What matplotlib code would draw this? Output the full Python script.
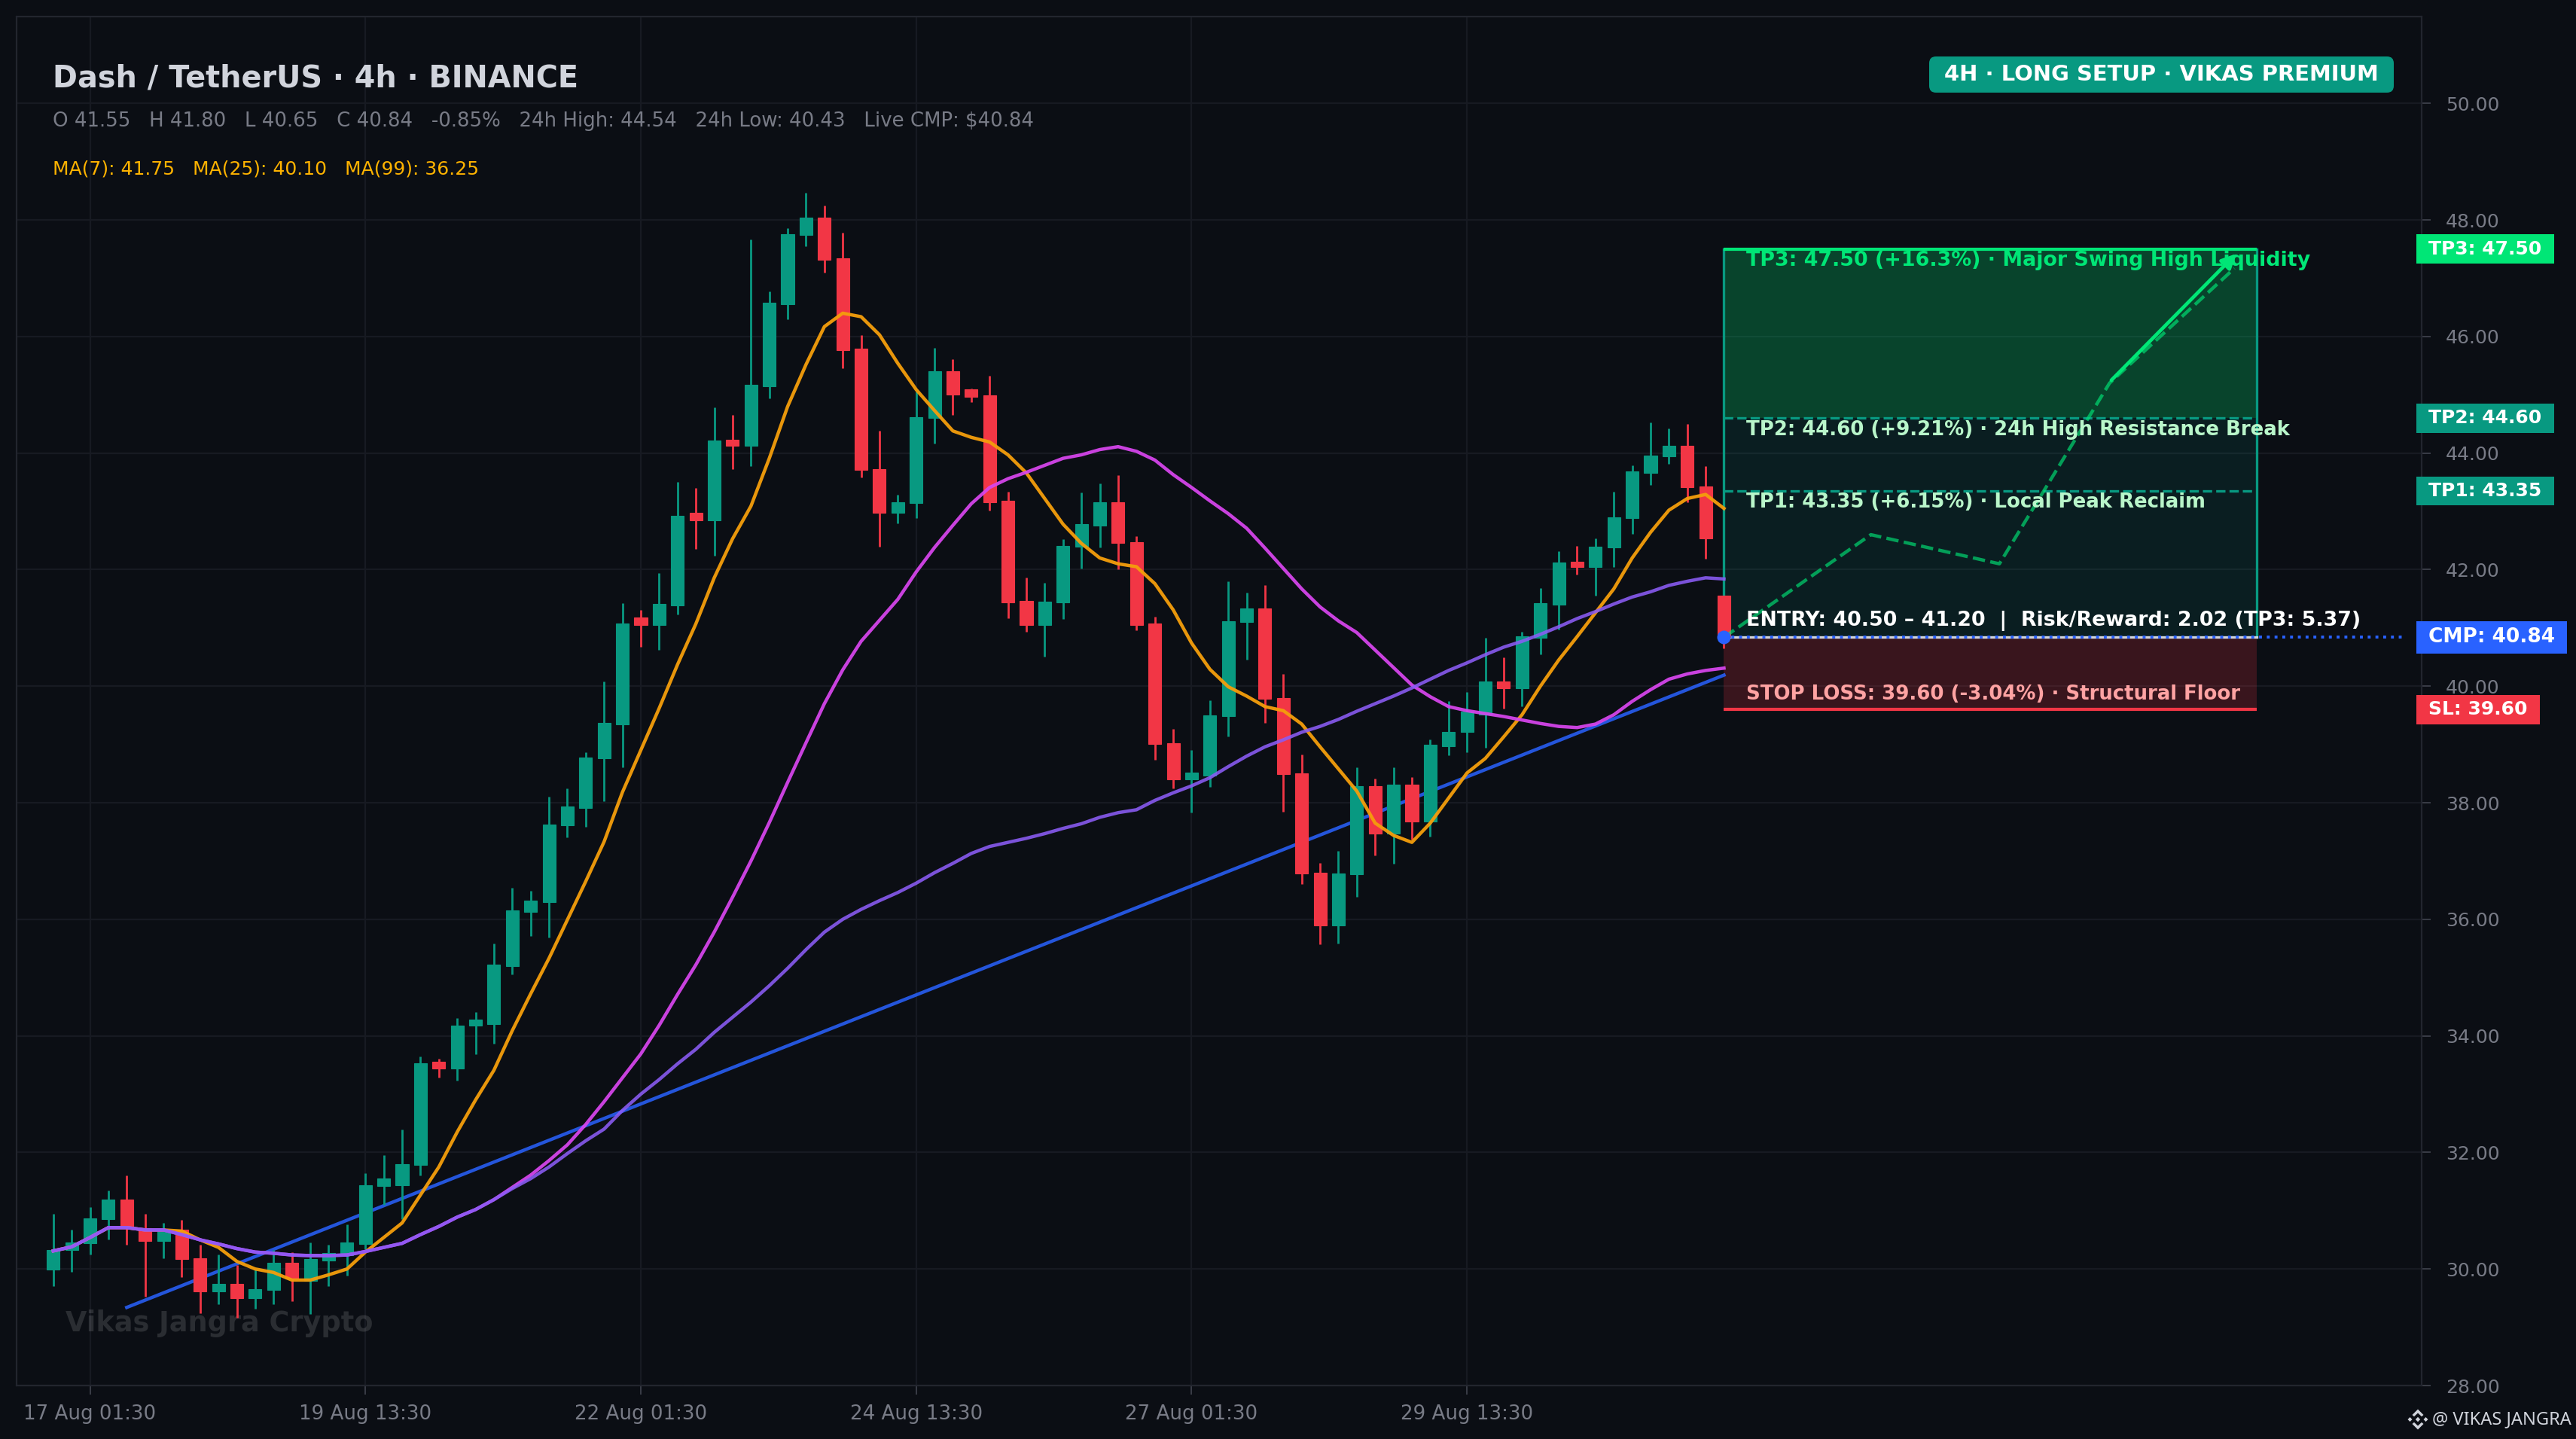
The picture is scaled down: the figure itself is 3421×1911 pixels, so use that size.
import numpy as np
import matplotlib
matplotlib.use('Agg')
import matplotlib.pyplot as plt
from matplotlib.patches import FancyBboxPatch, Polygon, Rectangle
from matplotlib.transforms import IdentityTransform, blended_transform_factory

# ========== Candles (4h) ==========
opens = [29.99, 30.32, 30.44, 30.86, 31.19, 30.70, 30.48, 30.68, 30.19, 29.62, 29.75, 29.50, 29.64, 30.10, 29.79, 30.15,
         30.24, 30.43, 31.43, 31.44, 31.79, 33.56, 33.44, 34.17, 34.20, 35.20, 36.13, 36.30, 37.61, 37.91, 38.76, 39.35,
         41.18, 41.05, 41.39, 42.97, 42.85, 44.23, 44.12, 45.15, 46.56, 47.74, 48.04, 47.34, 45.79, 43.72, 42.97, 43.14,
         44.60, 45.41, 45.09, 44.99, 43.18, 41.46, 41.05, 41.44, 42.39, 42.76, 43.15, 42.47, 41.07, 39.02, 38.40, 38.46,
         39.49, 41.10, 41.33, 39.80, 38.50, 36.80, 35.90, 36.77, 38.29, 37.47, 38.31, 37.68, 38.97, 39.21, 39.51, 40.08,
         39.97, 40.83, 41.40, 42.14, 42.04, 42.38, 42.88, 43.66, 43.95, 44.12, 43.43, 41.55]
highs = [30.95, 30.68, 31.06, 31.35, 31.60, 30.95, 30.79, 30.84, 30.41, 30.25, 30.07, 29.99, 30.32, 30.29, 30.46, 30.41,
         30.76, 31.64, 31.95, 32.39, 33.65, 33.61, 34.30, 34.41, 35.58, 36.54, 36.49, 38.11, 38.25, 38.86, 40.08, 41.43,
         41.31, 41.94, 43.51, 43.40, 44.79, 44.66, 47.67, 46.77, 47.86, 48.47, 48.25, 47.78, 46.02, 44.38, 43.28, 45.05,
         45.81, 45.61, 45.11, 45.33, 43.34, 41.87, 41.78, 42.52, 43.32, 43.48, 43.62, 42.58, 41.19, 39.27, 38.90, 39.76,
         41.80, 41.61, 41.73, 40.21, 38.83, 36.97, 37.17, 38.61, 38.42, 38.61, 38.44, 39.09, 39.74, 39.90, 40.83, 40.49,
         40.93, 41.68, 42.32, 42.41, 42.54, 43.34, 43.79, 44.53, 44.42, 44.50, 43.77, 41.80]
lows = [29.70, 29.95, 30.25, 30.51, 30.41, 29.53, 30.19, 29.86, 29.24, 29.39, 29.16, 29.32, 29.40, 29.45, 29.23, 29.71,
        29.89, 30.34, 31.10, 30.85, 31.61, 33.28, 33.23, 33.69, 33.87, 35.05, 35.71, 35.69, 37.41, 37.59, 38.03, 38.61,
        40.67, 40.63, 41.23, 42.35, 42.24, 43.72, 43.77, 44.94, 46.29, 47.55, 47.10, 45.45, 43.58, 42.39, 42.80, 42.88,
        44.16, 44.65, 44.87, 43.01, 41.16, 40.93, 40.51, 41.15, 42.02, 42.38, 42.00, 40.96, 38.74, 38.25, 37.83, 38.27,
        39.14, 40.46, 39.37, 37.84, 36.60, 35.57, 35.58, 36.39, 37.09, 36.96, 37.37, 37.42, 38.82, 38.86, 38.94, 39.62,
        39.66, 40.54, 40.97, 41.92, 41.55, 42.05, 42.61, 43.45, 43.82, 43.15, 42.19, 40.65]
closes = [30.33, 30.46, 30.87, 31.19, 30.72, 30.48, 30.67, 30.17, 29.62, 29.75, 29.50, 29.66, 30.10, 29.83, 30.17, 30.28,
          30.45, 31.44, 31.55, 31.80, 33.53, 33.44, 34.18, 34.28, 35.22, 36.15, 36.32, 37.62, 37.93, 38.77, 39.37, 41.08,
          41.05, 41.41, 42.92, 42.85, 44.21, 44.12, 45.17, 46.58, 47.75, 48.04, 47.32, 45.77, 43.71, 42.97, 43.15, 44.61,
          45.41, 45.00, 44.97, 43.16, 41.44, 41.05, 41.45, 42.41, 42.78, 43.15, 42.46, 41.05, 39.01, 38.40, 38.52, 39.50,
          41.11, 41.33, 39.78, 38.49, 36.79, 35.90, 36.78, 38.29, 37.47, 38.31, 37.68, 38.99, 39.22, 39.57, 40.08, 39.97,
          40.85, 41.42, 42.12, 42.04, 42.40, 42.90, 43.68, 43.96, 44.12, 43.42, 42.53, 40.84]

# ========== Moving averages ==========
ma7 = [30.31, 30.38, 30.54, 30.71, 30.71, 30.67, 30.67, 30.65, 30.50, 30.37, 30.13, 30.00, 29.94, 29.81, 29.81, 29.90,
       30.00, 30.29, 30.54, 30.79, 31.27, 31.75, 32.35, 32.90, 33.41, 34.09, 34.72, 35.33, 35.99, 36.65, 37.33, 38.18,
       38.90, 39.62, 40.37, 41.07, 41.86, 42.53, 43.09, 43.91, 44.80, 45.52, 46.17, 46.40, 46.34, 46.03, 45.54, 45.09,
       44.73, 44.38, 44.27, 44.19, 43.97, 43.66, 43.22, 42.78, 42.45, 42.20, 42.10, 42.05, 41.76, 41.31, 40.74, 40.29,
       39.99, 39.83, 39.65, 39.58, 39.35, 38.96, 38.58, 38.20, 37.65, 37.44, 37.32, 37.65, 38.08, 38.51, 38.76, 39.13,
       39.51, 40.00, 40.45, 40.85, 41.26, 41.67, 42.20, 42.64, 43.02, 43.22, 43.29, 43.05]
ma25 = [30.31, 30.38, 30.54, 30.71, 30.71, 30.67, 30.67, 30.59, 30.50, 30.43, 30.35, 30.29, 30.27, 30.24, 30.23, 30.23,
        30.24, 30.30, 30.37, 30.44, 30.59, 30.73, 30.89, 31.02, 31.19, 31.40, 31.61, 31.86, 32.13, 32.48, 32.87, 33.28,
        33.69, 34.18, 34.71, 35.22, 35.78, 36.38, 37.00, 37.66, 38.35, 39.03, 39.70, 40.28, 40.77, 41.13, 41.49, 41.96,
        42.38, 42.76, 43.13, 43.41, 43.56, 43.67, 43.79, 43.91, 43.97, 44.06, 44.11, 44.03, 43.88, 43.63, 43.41, 43.18,
        42.96, 42.71, 42.37, 42.02, 41.67, 41.36, 41.12, 40.92, 40.62, 40.32, 40.02, 39.82, 39.65, 39.58, 39.53, 39.48,
        39.42, 39.36, 39.31, 39.29, 39.35, 39.51, 39.74, 39.94, 40.12, 40.21, 40.27, 40.31]
ma99 = [30.31, 30.38, 30.54, 30.71, 30.71, 30.67, 30.67, 30.59, 30.50, 30.43, 30.35, 30.29, 30.27, 30.24, 30.23, 30.23,
        30.24, 30.30, 30.37, 30.44, 30.59, 30.73, 30.89, 31.02, 31.19, 31.38, 31.55, 31.75, 31.98, 32.20, 32.40, 32.72,
        33.00, 33.25, 33.52, 33.77, 34.06, 34.32, 34.58, 34.86, 35.16, 35.48, 35.78, 36.00, 36.17, 36.32, 36.46, 36.62,
        36.80, 36.96, 37.13, 37.25, 37.32, 37.39, 37.47, 37.56, 37.64, 37.75, 37.83, 37.88, 38.04, 38.17, 38.29, 38.43,
        38.62, 38.80, 38.96, 39.08, 39.21, 39.31, 39.43, 39.57, 39.70, 39.83, 39.97, 40.12, 40.27, 40.40, 40.54, 40.67,
        40.77, 40.89, 41.02, 41.16, 41.28, 41.41, 41.53, 41.62, 41.73, 41.80, 41.86, 41.84]

# Rising trendline under the candles
trend_x = [4, 91]
trend_y = [29.34, 40.19]

# ========== Trade setup ==========
cmp_price = 40.84
sl_price = 39.60
tp1_price = 43.35
tp2_price = 44.60
tp3_price = 47.50
box_start = 91
box_end = 120
cmp_line_end = 128

path_x = [91, 99, 106, 112, 118.8]
path_y = [40.84, 42.6, 42.1, 45.2, 47.17]
arrow_x = [112.1, 118.9]
arrow_y = [45.25, 47.42]

# ========== Axis labels ==========
tick_idx = [2, 17, 32, 47, 62, 77]
tick_labels = ['17 Aug 01:30', '19 Aug 13:30', '22 Aug 01:30', '24 Aug 13:30', '27 Aug 01:30', '29 Aug 13:30']
y_ticks = [28, 30, 32, 34, 36, 38, 40, 42, 44, 46, 48, 50]

title = 'Dash / TetherUS · 4h · BINANCE'
subtitle = 'O 41.55   H 41.80   L 40.65   C 40.84   -0.85%   24h High: 44.54   24h Low: 40.43   Live CMP: $40.84'
ma_text = 'MA(7): 41.75   MA(25): 40.10   MA(99): 36.25'

# Colors
BG = '#0b0e14'
GRID = '#171a22'
SPINE = '#22252e'
MUTED = '#787b86'
GREEN = '#089981'
RED = '#f23645'
BRIGHT = '#00e676'
BLUE = '#2962ff'

W, H = 3421, 1911
fig = plt.figure(figsize=(W / 200, H / 200), dpi=200, facecolor=BG)
ax = fig.add_axes([22 / W, (H - 1840) / H, (3216 - 22) / W, (1840 - 22) / H], facecolor=BG)
ax.set_xlim(-2, 129)
ax.set_ylim(28, 51.49)

ax.set_axisbelow(True)
ax.grid(True, color=GRID, linewidth=0.8)
for s in ax.spines.values():
    s.set_color(SPINE)
    s.set_linewidth(0.8)
ax.yaxis.tick_right()
ax.set_yticks(y_ticks)
ax.set_yticklabels([f'{v:.2f}' for v in y_ticks])
ax.set_xticks(tick_idx)
ax.set_xticklabels(tick_labels)
ax.tick_params(axis='both', colors=MUTED, labelsize=9, length=4.4, width=0.7, color='#3a3d47')
ax.tick_params(axis='x', pad=4.5, labelsize=9.4)
ax.tick_params(axis='y', pad=7)

# Trendline sits behind the candles
ax.plot(trend_x, trend_y, color=BLUE, lw=1.6, alpha=0.85, zorder=1.5)

# Setup zones
ax.add_patch(Rectangle((box_start, tp2_price), box_end - box_start, tp3_price - tp2_price,
                       facecolor=BRIGHT, alpha=0.25, edgecolor='none', zorder=1.2))
ax.add_patch(Rectangle((box_start, cmp_price), box_end - box_start, tp2_price - cmp_price,
                       facecolor=GREEN, alpha=0.12, edgecolor='none', zorder=1.2))
ax.add_patch(Rectangle((box_start, sl_price), box_end - box_start, cmp_price - sl_price,
                       facecolor=RED, alpha=0.2, edgecolor='none', zorder=1.2))

# Candles
x = np.arange(len(opens))
for i in x:
    col = GREEN if closes[i] >= opens[i] else RED
    ax.plot([i, i], [lows[i], highs[i]], color=col, lw=1.0, solid_capstyle='butt', zorder=2)
    ax.bar(i, abs(closes[i] - opens[i]), bottom=min(opens[i], closes[i]), width=0.7,
           color=col, edgecolor=col, linewidth=0.4, zorder=3)

# Box edges and levels
ax.plot([box_start, box_start], [cmp_price, tp3_price], color=GREEN, lw=1.2, zorder=2.5)
ax.plot([box_end, box_end], [cmp_price, tp3_price], color=GREEN, lw=1.2, zorder=2.5)
ax.plot([box_start, box_end], [tp3_price, tp3_price], color=BRIGHT, lw=1.5, zorder=2.6, solid_capstyle='butt')
ax.plot([box_start, box_end], [sl_price, sl_price], color=RED, lw=1.5, zorder=2.6, solid_capstyle='butt')
ax.plot([box_start, box_end], [tp2_price, tp2_price], color=GREEN, lw=1.2, ls='--', zorder=2.5)
ax.plot([box_start, box_end], [tp1_price, tp1_price], color=GREEN, lw=1.2, ls='--', zorder=2.5)
ax.plot([box_start, box_end], [cmp_price, cmp_price], color='#d1d4dc', lw=1.2, zorder=2.6)
ax.plot([box_start, cmp_line_end], [cmp_price, cmp_price], color=BLUE, lw=1.4, ls=':', zorder=2.7)

# MAs over the candles
ax.plot(x, ma7, color='#f59e0b', lw=1.6, alpha=0.95, zorder=4)
ax.plot(x, ma25, color='#d946ef', lw=1.6, alpha=0.93, zorder=4.1)
ax.plot(x, ma99, color='#8b5cf6', lw=1.6, alpha=0.88, zorder=4.2)

# Projected path
ax.plot(path_x, path_y, color=BRIGHT, lw=1.6, ls='--', alpha=0.65, zorder=5)
ax.annotate('', xy=(arrow_x[1], arrow_y[1]), xytext=(arrow_x[0], arrow_y[0]), zorder=5.1,
            arrowprops=dict(arrowstyle='-|>', color=BRIGHT, lw=1.7, mutation_scale=14, shrinkA=0, shrinkB=0))
ax.scatter([box_start], [cmp_price], s=42, color=BLUE, zorder=6, linewidths=0)

# Labels inside the box
label_x = 92.2
ax.text(label_x, 47.31, 'TP3: 47.50 (+16.3%) · Major Swing High Liquidity', color=BRIGHT, fontsize=9.7,
        fontweight='bold', va='center', zorder=7)
ax.text(label_x, 44.40, 'TP2: 44.60 (+9.21%) · 24h High Resistance Break', color='#b9f6ca', fontsize=9.37,
        fontweight='bold', va='center', zorder=7)
ax.text(label_x, 43.16, 'TP1: 43.35 (+6.15%) · Local Peak Reclaim', color='#b9f6ca', fontsize=9.37,
        fontweight='bold', va='center', zorder=7)
ax.text(label_x, 41.12, 'ENTRY: 40.50 – 41.20  |  Risk/Reward: 2.02 (TP3: 5.37)', color='white', fontsize=9.7,
        fontweight='bold', va='center', zorder=7)
ax.text(label_x, 39.86, 'STOP LOSS: 39.60 (-3.04%) · Structural Floor', color='#ffa3a3', fontsize=9.37,
        fontweight='bold', va='center', zorder=7)

# Price tags to the right of the axes
trans = blended_transform_factory(ax.transAxes, ax.transData)
ax_w = 3216 - 22


def price_tag(price, text, color, width_px, height, size=9.0):
    ax.add_patch(Rectangle((1 - 7 / ax_w, price - height / 2), width_px / ax_w, height, transform=trans,
                           facecolor=color, edgecolor='none', clip_on=False, zorder=8))
    ax.text(1 + 9 / ax_w, price, text, transform=trans, color='white', fontsize=size, fontweight='bold',
            va='center', ha='left', clip_on=False, zorder=9)


price_tag(tp3_price, 'TP3: 47.50', BRIGHT, 183, 0.5)
price_tag(tp2_price, 'TP2: 44.60', GREEN, 183, 0.5)
price_tag(tp1_price, 'TP1: 43.35', GREEN, 183, 0.5)
price_tag(cmp_price, 'CMP: 40.84', BLUE, 200, 0.56, size=9.5)
price_tag(sl_price, 'SL: 39.60', RED, 164, 0.5)

# Header
ax.text((70 - 22) / ax_w, 1 - (105 - 22) / 1818, title, transform=ax.transAxes, color='#d1d4dc', fontsize=14.3,
        fontweight='bold', va='center')
ax.text((70 - 22) / ax_w, 1 - (161 - 22) / 1818, subtitle, transform=ax.transAxes, color=MUTED, fontsize=9.37,
        va='center')
ax.text((70 - 22) / ax_w, 1 - (225 - 22) / 1818, ma_text, transform=ax.transAxes, color='#ffb300', fontsize=9,
        va='center')

# Badge, placed in pixels
fig.add_artist(FancyBboxPatch((2562, H - 123), 617, 48, boxstyle='round,pad=0,rounding_size=9',
                              transform=IdentityTransform(), facecolor=GREEN, edgecolor='none', zorder=3))
fig.text(2870 / W, (H - 99) / H, '4H · LONG SETUP · VIKAS PREMIUM', color='white', fontsize=10.45,
         fontweight='bold', va='center', ha='center', zorder=4)

# Watermark
ax.text((87 - 22) / ax_w, (1840 - 1757) / 1818, 'Vikas Jangra Crypto', transform=ax.transAxes, color='white',
        alpha=0.13, fontsize=13.2, fontweight='bold', va='center', zorder=1.4)

# Footer credit with the little diamond logo, in pixels
cx, cy = 3211, H - 1885
logo = [
    [(0, 3.2), (3.2, 0), (0, -3.2), (-3.2, 0)],
    [(-10.5, 3), (-7.5, 0), (-10.5, -3), (-13.5, 0)],
    [(10.5, 3), (13.5, 0), (10.5, -3), (7.5, 0)],
    [(0, 13.5), (7.5, 6), (5, 3.8), (0, 8.5), (-5, 3.8), (-7.5, 6)],
    [(0, -13.5), (7.5, -6), (5, -3.8), (0, -8.5), (-5, -3.8), (-7.5, -6)],
]
for pts in logo:
    fig.add_artist(Polygon([((cx + px) / W, (cy + py) / H) for px, py in pts], closed=True,
                           transform=fig.transFigure, facecolor='#d1d4dc', edgecolor='none'))
fig.text(3230 / W, cy / H, '@ VIKAS JANGRA', color='#d1d4dc', fontsize=8.5, family='Noto Sans', va='center')

fig.savefig('out.png', dpi=200, facecolor=BG)
